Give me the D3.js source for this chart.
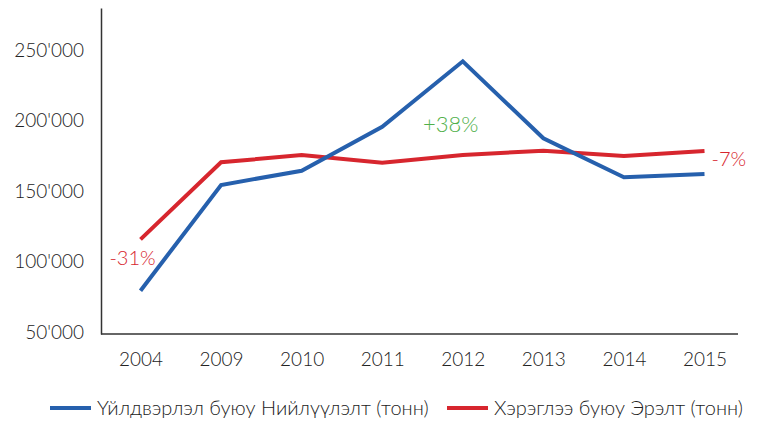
<!DOCTYPE html>
<html>
<head>
<meta charset="utf-8">
<script src="https://cdn.jsdelivr.net/npm/d3@7"></script>
<style>
  body { margin: 0; background: #fff; }
  svg text { font-family: Lato, "Open Sans", sans-serif; font-weight: 300; }
</style>
</head>
<body>
<svg id="chart" width="761" height="421"></svg>
<script>
// data
var years = ['2004', '2009', '2010', '2011', '2012', '2013', '2014', '2015']
var supply = [79300, 154300, 164400, 195600, 242000, 187400, 159700, 162100]
var demand = [115700, 170400, 175500, 170100, 175500, 178600, 174800, 178400]
var yTicks = [50000, 100000, 150000, 200000, 250000]
var seriesNames = ['Үйлдвэрлэл буюу Нийлүүлэлт (тонн)', 'Хэрэглээ буюу Эрэлт (тонн)']
var notes = [
  { text: '-31%', year: '2004', value: supply[0], color: '#d7262e', dx: -8, dy: -26, anchor: 'middle' },
  { text: '+38%', year: '2012', value: supply[4], color: '#4fb04a', dx: -12, dy: 71, anchor: 'middle' },
  { text: '-7%', year: '2015', value: demand[7], color: '#d7262e', dx: 7, dy: 15, anchor: 'start' }
]

var blue = '#2660ad'
var red = '#d7262e'

var svg = d3.select('#chart')

// plot box (named to avoid window.top)
var plotL = 101, plotR = 738, plotT = 8, plotB = 334

var x = d3.scalePoint()
  .domain(years)
  .range([140.5, 704.5])

var y = d3.scaleLinear()
  .domain([48600, 279800])
  .range([plotB, plotT])

// y axis
var yAxis = svg.append('g')
  .attr('transform', 'translate(' + plotL + ',0)')
  .call(d3.axisLeft(y)
    .tickValues(yTicks)
    .tickSize(0)
    .tickPadding(17)
    .tickFormat(function (d) { return d3.format(',')(d).replace(/,/g, "'") }))
yAxis.select('.domain').attr('stroke', '#333').attr('stroke-width', 1.5)
yAxis.selectAll('text').attr('font-size', 19).attr('fill', '#222')

// x axis
var xAxis = svg.append('g')
  .attr('transform', 'translate(0,' + plotB + ')')
  .call(d3.axisBottom(x).tickSize(0).tickPadding(19))
xAxis.select('.domain').remove()
xAxis.selectAll('text').attr('font-size', 19).attr('fill', '#222')
svg.append('line')
  .attr('x1', plotL).attr('x2', plotR)
  .attr('y1', plotB).attr('y2', plotB)
  .attr('stroke', '#333').attr('stroke-width', 1.5)

var line = d3.line()
  .x(function (d, i) { return x(years[i]) })
  .y(function (d) { return y(d) })

svg.append('path')
  .datum(demand)
  .attr('d', line)
  .attr('fill', 'none')
  .attr('stroke', red)
  .attr('stroke-width', 4)

svg.append('path')
  .datum(supply)
  .attr('d', line)
  .attr('fill', 'none')
  .attr('stroke', blue)
  .attr('stroke-width', 4)

// annotations
svg.selectAll('.note')
  .data(notes)
  .enter().append('text')
  .attr('class', 'note')
  .attr('x', function (d) { return x(d.year) + d.dx })
  .attr('y', function (d) { return y(d.value) + d.dy })
  .attr('text-anchor', function (d) { return d.anchor })
  .attr('font-size', function (d) { return d.text === '+38%' ? 22 : 20 })
  .attr('fill', function (d) { return d.color })
  .text(function (d) { return d.text })

// legend
var legend = [
  { name: seriesNames[0], color: blue, x: 50 },
  { name: seriesNames[1], color: red, x: 447 }
]
var lg = svg.selectAll('.lg')
  .data(legend)
  .enter().append('g')
  .attr('class', 'lg')
  .attr('transform', function (d) { return 'translate(' + d.x + ',408)' })
lg.append('line')
  .attr('x1', 0).attr('x2', 41)
  .attr('stroke', function (d) { return d.color })
  .attr('stroke-width', 4)
lg.append('text')
  .attr('x', 47)
  .attr('dy', '0.35em')
  .attr('font-size', 20)
  .attr('fill', '#222')
  .text(function (d) { return d.name })
</script>
</body>
</html>
